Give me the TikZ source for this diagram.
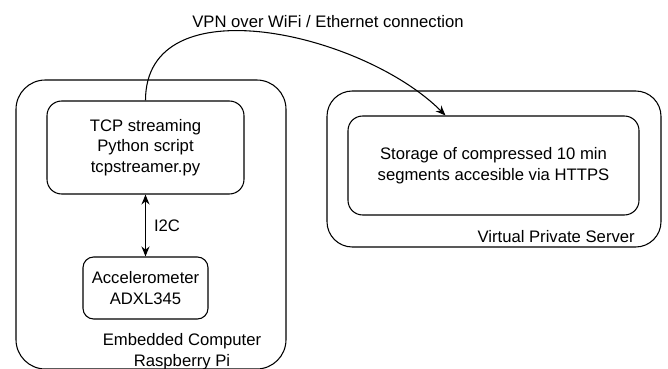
\documentclass[tikz,border=0pt]{standalone}
\usepackage{fontspec}
\setmainfont{Liberation Sans}
\usetikzlibrary{arrows.meta, positioning}
\tikzset{
>={Stealth[length=7.5pt,width=6pt]}, % filled arrow heads
box/.style={draw, line width=0.8pt, rounded corners=11pt, align=center},
container/.style={draw, line width=0.8pt, rounded corners=22pt},
caption/.style={align=center, inner sep=0pt},
}

\begin{document}
\begin{tikzpicture}[x=0.75pt, y=0.75pt, font=\fontsize{12.5}{15.5}\selectfont]
\useasboundingbox (0,0) rectangle (668,368);

% embedded side
\node[container, minimum width=202.5pt, minimum height=216.75pt] (emb) at (151,143.5) {};
\node[box, minimum width=147.75pt, minimum height=69.75pt] (tcp) at (145.5,220.5) {TCP streaming\\Python script\\tcpstreamer.py};
\node[box, rounded corners=8pt, minimum width=93.75pt, minimum height=46.5pt] (accel) at (145.5,80) {Accelerometer\\ADXL345};
\node[caption] (emblabel) at (182,16.5) {Embedded Computer\\Raspberry Pi};

% server side
\node[container, rounded corners=19pt, minimum width=250.5pt, minimum height=117pt] (vps) at (494,199) {};
\node[box, minimum width=218.25pt, minimum height=74.25pt] (store) at (493.5,202.5) {Storage of compressed 10 min\\segments accesible via HTTPS};
\node[caption, anchor=east] (vpslabel) at (635,131) {Virtual Private Server};

\node[caption] (vpn) at (328,346) {VPN over WiFi / Ethernet connection};

\draw[<->, line width=0.8pt] (tcp.south) -- node[right=6pt, caption] {I2C} (accel.north);
\draw[->, line width=0.8pt] (tcp.north) to[out=90, in=135] ([xshift=-36pt]store.north);

\end{tikzpicture}
\end{document}
